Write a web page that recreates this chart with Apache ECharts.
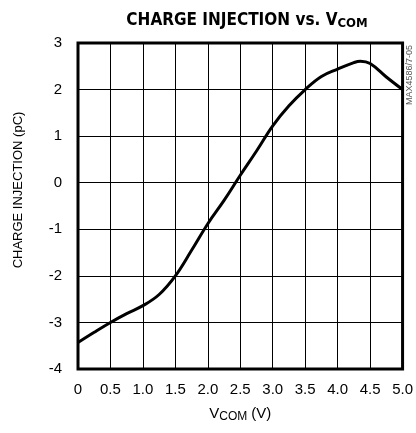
<!DOCTYPE html>
<html>
<head>
<meta charset="utf-8">
<script src="https://cdn.jsdelivr.net/npm/echarts@6/dist/echarts.min.js"></script>
<style>
  html, body { margin: 0; padding: 0; background: #fff; }
  #chart_1 { width: 416px; height: 433px; }
</style>
</head>
<body>
<div id="chart_1"></div>
<script>
// V_COM (V) 与 电荷注入 (pC)
var vcom = [0, 0.25, 0.5, 0.75, 1.0, 1.25, 1.5, 1.75, 2.0, 2.25, 2.5, 2.75, 3.0, 3.25, 3.5, 3.75, 4.0, 4.25, 4.35, 4.5, 4.75, 5.0];
var charge = [-3.43, -3.21, -3.0, -2.81, -2.64, -2.40, -2.0, -1.45, -0.88, -0.38, 0.16, 0.68, 1.22, 1.65, 2.0, 2.28, 2.44, 2.58, 2.61, 2.56, 2.27, 2.0];
var xTicks = ['0', '0.5', '1.0', '1.5', '2.0', '2.5', '3.0', '3.5', '4.0', '4.5', '5.0'];

var font = "'Liberation Sans', Arial, sans-serif";
var titleFont = "'DejaVu Sans Condensed', 'DejaVu Sans', sans-serif";

var chart = echarts.init(document.getElementById('chart_1'));
var points = [];
for (var i = 0; i < vcom.length; i++) {
    points.push([vcom[i], charge[i]]);
}

var option = {
    animation: false,
    backgroundColor: '#fff',
    title: {
        text: 'CHARGE INJECTION vs. V{sub|COM}',
        left: 242,
        textAlign: 'center',
        top: 6,
        textStyle: {
            fontFamily: titleFont,
            fontWeight: 'bold',
            fontSize: 17,
            color: '#000',
            rich: {
                sub: { fontFamily: titleFont, fontWeight: 'bold', fontSize: 13, color: '#000', padding: [6, 0, 0, 0] }
            }
        }
    },
    grid: {
        left: 78,
        right: 11,
        top: 43,
        bottom: 64,
        show: true,
        borderColor: '#000',
        borderWidth: 3,
        containLabel: false
    },
    xAxis: {
        type: 'value',
        min: 0,
        max: 5,
        interval: 0.5,
        name: 'V{sub|COM} (V)',
        nameLocation: 'middle',
        nameGap: 36,
        nameTextStyle: {
            fontFamily: font, fontSize: 15, color: '#000',
            rich: { sub: { fontFamily: font, fontSize: 12, color: '#000', padding: [6, 0, 0, 0] } }
        },
        axisLine: { show: false },
        axisTick: { show: false },
        axisLabel: {
            margin: 13,
            fontFamily: font,
            fontSize: 15,
            color: '#000',
            formatter: function (v) { return xTicks[Math.round(v / 0.5)]; }
        },
        splitLine: { show: true, lineStyle: { color: '#000', width: 1 } }
    },
    yAxis: {
        type: 'value',
        min: -4,
        max: 3,
        interval: 1,
        name: 'CHARGE INJECTION (pC)',
        nameLocation: 'middle',
        nameGap: 53,
        nameTextStyle: { fontFamily: font, fontSize: 13, color: '#000', padding: [0, 0, 0, 32] },
        axisLine: { show: false },
        axisTick: { show: false },
        axisLabel: { margin: 16, fontFamily: font, fontSize: 15, color: '#000' },
        splitLine: { show: true, lineStyle: { color: '#000', width: 1 } }
    },
    graphic: [{
        type: 'text',
        x: 410,
        y: 75,
        rotation: Math.PI / 2,
        style: {
            text: 'MAX4586/7-05',
            fontFamily: font,
            fontSize: 9,
            fill: '#555',
            align: 'center',
            verticalAlign: 'middle'
        }
    }],
    series: [{
        type: 'line',
        data: points,
        smooth: 0.4,
        showSymbol: false,
        clip: true,
        lineStyle: { color: '#000', width: 3 }
    }]
};

chart.setOption(option);
window.addEventListener("resize", function () {
    chart.resize();
});
</script>
</body>
</html>
